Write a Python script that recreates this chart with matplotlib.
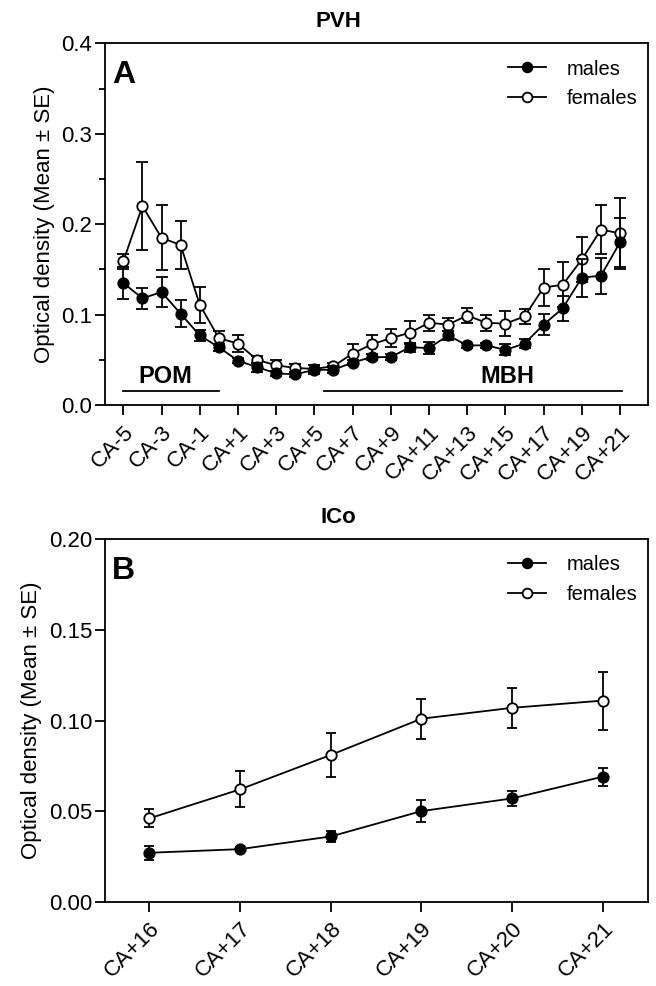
import numpy as np
import matplotlib
matplotlib.use('Agg')
import matplotlib.pyplot as plt
from matplotlib.lines import Line2D

plt.rcParams['font.family'] = ['Liberation Sans', 'DejaVu Sans']

# panel A : PVH, rostro-caudal levels CA-5 ... CA+21
levels_a = list(range(-5, 22))
tick_levels_a = list(range(-5, 22, 2))
tick_labels_a = ['CA-5', 'CA-3', 'CA-1', 'CA+1', 'CA+3', 'CA+5', 'CA+7', 'CA+9',
                 'CA+11', 'CA+13', 'CA+15', 'CA+17', 'CA+19', 'CA+21']
males_a = [0.135, 0.118, 0.125, 0.101, 0.077, 0.064, 0.049, 0.042, 0.035, 0.034,
           0.039, 0.039, 0.047, 0.053, 0.053, 0.064, 0.063, 0.077, 0.066, 0.066,
           0.061, 0.068, 0.089, 0.107, 0.141, 0.143, 0.180]
males_a_se = [0.018, 0.012, 0.017, 0.015, 0.006, 0.004, 0.003, 0.005, 0.003, 0.003,
              0.005, 0.004, 0.003, 0.003, 0.003, 0.005, 0.007, 0.005, 0.003, 0.003,
              0.006, 0.005, 0.012, 0.014, 0.021, 0.020, 0.027]
females_a = [0.159, 0.220, 0.185, 0.177, 0.111, 0.074, 0.068, 0.050, 0.044, 0.041,
             0.040, 0.043, 0.057, 0.067, 0.074, 0.080, 0.091, 0.089, 0.099, 0.091,
             0.090, 0.098, 0.130, 0.133, 0.161, 0.194, 0.190]
females_a_se = [0.008, 0.049, 0.036, 0.027, 0.020, 0.008, 0.009, 0.004, 0.006, 0.004,
                0.004, 0.004, 0.010, 0.010, 0.010, 0.013, 0.009, 0.007, 0.008, 0.009,
                0.014, 0.008, 0.021, 0.025, 0.025, 0.027, 0.039]

# panel B : ICo
levels_b = [16, 17, 18, 19, 20, 21]
tick_labels_b = ['CA+16', 'CA+17', 'CA+18', 'CA+19', 'CA+20', 'CA+21']
males_b = [0.027, 0.029, 0.036, 0.050, 0.057, 0.069]
males_b_se = [0.004, 0.001, 0.003, 0.006, 0.004, 0.005]
females_b = [0.046, 0.062, 0.081, 0.101, 0.107, 0.111]
females_b_se = [0.005, 0.010, 0.012, 0.011, 0.011, 0.016]

LW = 1.3
MS = 7.5


def draw_series(ax, x, y, se, filled, capsize):
    face = 'black' if filled else 'white'
    ax.errorbar(x, y, yerr=se, color='black', lw=LW, elinewidth=LW, capsize=capsize,
                capthick=LW, marker='o', ms=MS, mfc=face, mec='black', mew=LW,
                zorder=3 if filled else 2)


def style_axes(ax):
    for sp in ax.spines.values():
        sp.set_linewidth(LW)
    ax.tick_params(axis='both', which='major', direction='out', length=7, width=LW,
                   labelsize=16, pad=2)
    ax.tick_params(axis='x', which='major', pad=5)
    ax.tick_params(axis='y', which='minor', direction='out', length=4, width=LW)
    # legend without the error bar glyphs, like the original
    handles = [Line2D([], [], color='black', lw=LW, marker='o', ms=MS - 0.5,
                      mfc='black', mec='black', mew=LW),
               Line2D([], [], color='black', lw=LW, marker='o', ms=MS - 0.5,
                      mfc='white', mec='black', mew=LW)]
    ax.legend(handles, ['males', 'females'], loc='upper right', frameon=False,
              bbox_to_anchor=(1.0, 0.986), fontsize=14.5, handlelength=1.9,
              handletextpad=1.0, borderaxespad=0.15, labelspacing=0.5)


fig = plt.figure(figsize=(6.56, 9.86), dpi=100)

# ---- panel A
ax1 = fig.add_axes([0.160, 0.5892, 0.828, 0.3668])
draw_series(ax1, levels_a, males_a, males_a_se, True, 4)
draw_series(ax1, levels_a, females_a, females_a_se, False, 4)
ax1.set_xlim(-5.96, 22.47)
ax1.set_ylim(0, 0.4)
ax1.set_yticks([0.0, 0.1, 0.2, 0.3, 0.4])
ax1.set_yticks([0.05, 0.15, 0.25, 0.35], minor=True)
ax1.set_yticklabels(['0.0', '0.1', '0.2', '0.3', '0.4'])
ax1.set_xticks(tick_levels_a)
ax1.set_xticklabels(tick_labels_a, rotation=45, ha='right', rotation_mode='anchor')
ax1.set_ylabel('Optical density (Mean \u00b1 SE)', fontsize=16, labelpad=5)
ax1.set_title('PVH', fontsize=16, fontweight='bold', pad=12, x=0.43)
ax1.text(0.013, 0.955, 'A', transform=ax1.transAxes, fontsize=23, fontweight='bold',
         va='top', ha='left')
style_axes(ax1)

# region bars
ax1.plot([-5, 0], [0.0155, 0.0155], color='black', lw=LW)
ax1.text(-2.8, 0.019, 'POM', fontsize=17, fontweight='bold', ha='center', va='bottom')
ax1.plot([5.5, 21.1], [0.015, 0.015], color='black', lw=LW)
ax1.text(15.1, 0.019, 'MBH', fontsize=17, fontweight='bold', ha='center', va='bottom')

# ---- panel B
ax2 = fig.add_axes([0.160, 0.0855, 0.828, 0.3675])
draw_series(ax2, levels_b, males_b, males_b_se, True, 3.6)
draw_series(ax2, levels_b, females_b, females_b_se, False, 3.6)
ax2.set_xlim(15.51, 21.5)
ax2.set_ylim(0, 0.2)
ax2.set_yticks([0.0, 0.05, 0.10, 0.15, 0.20])
ax2.set_yticklabels(['0.00', '0.05', '0.10', '0.15', '0.20'])
ax2.set_xticks(levels_b)
ax2.set_xticklabels(tick_labels_b, rotation=45, ha='right', rotation_mode='anchor')
ax2.set_ylabel('Optical density (Mean \u00b1 SE)', fontsize=16, labelpad=5)
ax2.set_title('ICo', fontsize=16, fontweight='bold', pad=12, x=0.43)
ax2.text(0.013, 0.955, 'B', transform=ax2.transAxes, fontsize=23, fontweight='bold',
         va='top', ha='left')
style_axes(ax2)

fig.savefig('out.png', dpi=100)
